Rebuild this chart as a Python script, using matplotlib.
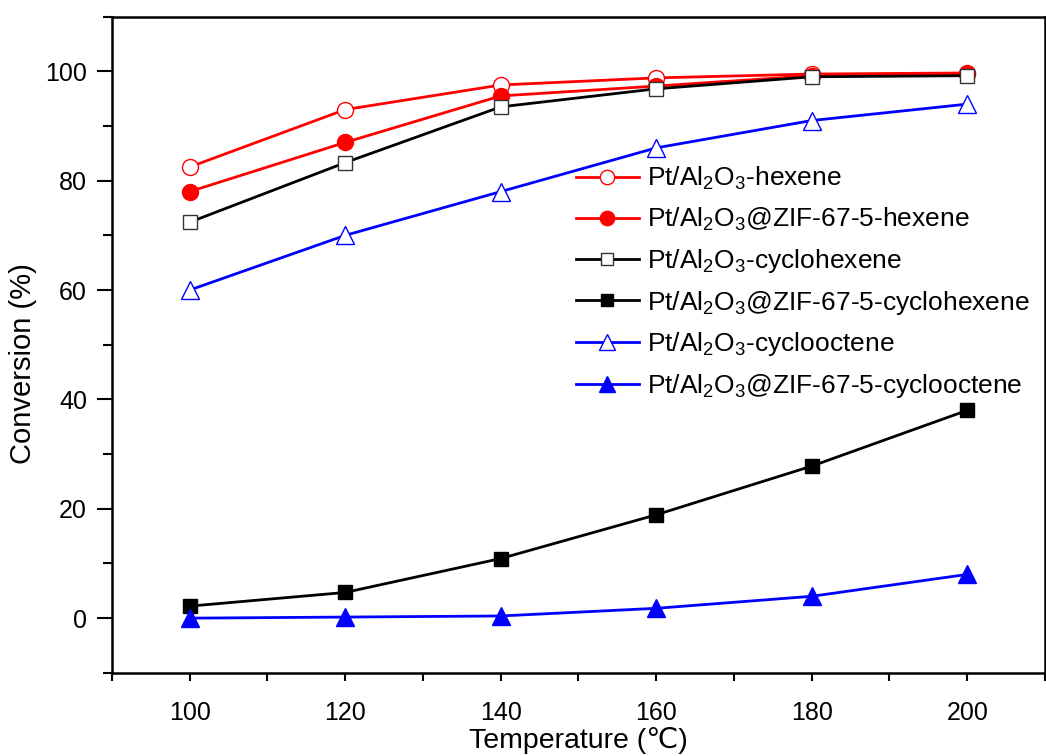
import matplotlib
matplotlib.use('Agg')
import matplotlib.pyplot as plt
from matplotlib.ticker import MultipleLocator

plt.rcParams['font.family'] = ['Liberation Sans', 'DejaVu Sans']
plt.rcParams['mathtext.fontset'] = 'custom'
plt.rcParams['mathtext.rm'] = 'Liberation Sans'
plt.rcParams['mathtext.it'] = 'Liberation Sans'

temp = [100, 120, 140, 160, 180, 200]

hexene = [82.5, 93.0, 97.5, 98.8, 99.5, 99.7]
hexene_zif = [78.0, 87.0, 95.5, 97.3, 99.2, 99.6]
cyclohexene = [72.4, 83.3, 93.5, 96.8, 99.0, 99.2]
cyclohexene_zif = [2.2, 4.7, 10.9, 18.9, 27.8, 38.0]
cyclooctene = [60.0, 70.0, 78.0, 86.0, 91.0, 94.0]
cyclooctene_zif = [0.0, 0.2, 0.4, 1.8, 4.0, 8.0]

labels = [r'Pt/Al$_2$O$_3$-hexene',
          r'Pt/Al$_2$O$_3$@ZIF-67-5-hexene',
          r'Pt/Al$_2$O$_3$-cyclohexene',
          r'Pt/Al$_2$O$_3$@ZIF-67-5-cyclohexene',
          r'Pt/Al$_2$O$_3$-cyclooctene',
          r'Pt/Al$_2$O$_3$@ZIF-67-5-cyclooctene']

fig = plt.figure(figsize=(10.46, 7.56), dpi=100)
ax = fig.add_axes([0.107, 0.110, 0.892, 0.868])

lw = 2
ax.plot(temp, hexene, '-o', color='red', lw=lw, ms=11.5, mfc='white', mec='red', mew=1, label=labels[0])
ax.plot(temp, hexene_zif, '-o', color='red', lw=lw, ms=11.5, mfc='red', mec='red', label=labels[1])
ax.plot(temp, cyclohexene, '-s', color='black', lw=lw, ms=10, mfc='white', mec='#333333', mew=1, label=labels[2])
ax.plot(temp, cyclohexene_zif, '-s', color='black', lw=lw, ms=10, mfc='black', mec='black', label=labels[3])
ax.plot(temp, cyclooctene, '-^', color='blue', lw=lw, ms=13, mfc='white', mec='blue', mew=1, label=labels[4])
ax.plot(temp, cyclooctene_zif, '-^', color='blue', lw=lw, ms=13, mfc='blue', mec='blue', label=labels[5])

ax.set_xlim(90, 210)
ax.set_ylim(-10, 110)
ax.xaxis.set_major_locator(MultipleLocator(20))
ax.xaxis.set_minor_locator(MultipleLocator(10))
ax.yaxis.set_major_locator(MultipleLocator(20))
ax.yaxis.set_minor_locator(MultipleLocator(10))
ax.tick_params(which='both', direction='out', width=1.5, labelsize=18)
ax.tick_params(axis='y', which='major', length=11, pad=7)
ax.tick_params(axis='y', which='minor', length=6.5)
ax.tick_params(axis='x', which='major', length=6, pad=14)
ax.tick_params(axis='x', which='minor', length=6)
for s in ax.spines.values():
    s.set_linewidth(1.8)

ax.set_xlabel('Temperature (℃)', fontsize=20.5)
ax.set_ylabel('Conversion (%)', fontsize=21)
ax.xaxis.set_label_coords(0.5, -0.082)
ax.yaxis.set_label_coords(-0.08, 0.471)

ax.legend(loc='upper left', bbox_to_anchor=(0.497, 0.774), frameon=False,
          handlelength=2.4, handletextpad=0.3, labelspacing=0.52,
          borderaxespad=0, borderpad=0, markerscale=0.9,
          prop={'family': ['Liberation Sans', 'DejaVu Sans'], 'size': 19})

plt.savefig('out.png', dpi=100)
plt.close()
